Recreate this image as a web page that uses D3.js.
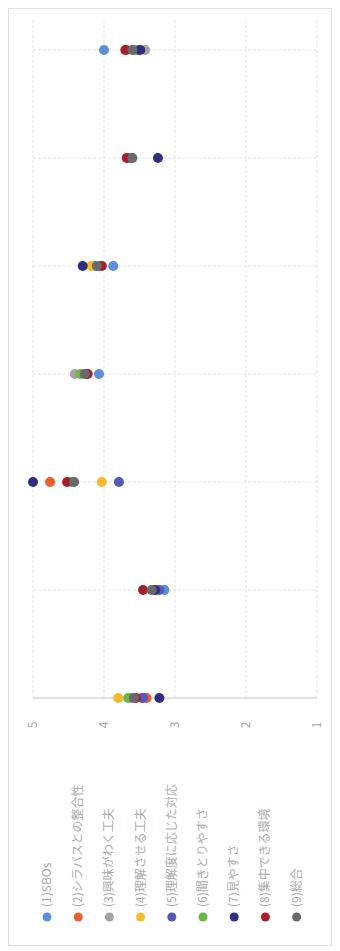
<!DOCTYPE html>
<html>
<head>
<meta charset="utf-8">
<script src="https://cdn.jsdelivr.net/npm/d3@7"></script>
<style>
  body { margin: 0; background: #fff; }
  text { font-family: "Noto Sans CJK JP", "Open Sans", sans-serif; }
</style>
</head>
<body>
<div id="chart"></div>
<script>
// chart is shown rotated: values run left (5) to right (1), categories bottom to top
var categories = ["1", "2", "3", "4", "5", "6", "7"];

var seriesNames = ["(1)SBOs", "(2)シラバスとの整合性", "(3)興味がわく工夫", "(4)理解させる工夫",
    "(5)理解度に応じた対応", "(6)聞きとりやすさ", "(7)見やすさ", "(8)集中できる環境", "(9)総合"];

var seriesColors = ["#5b8fd8", "#e8602c", "#a3a3a7", "#f5b92a", "#5558b8", "#6db545", "#2f2f80", "#a61e2c", "#6a6a6e"];

var s1 = [3.47, 3.15, 4.45, 4.07, 3.87, 3.64, 4.0];
var s2 = [3.40, 3.30, 4.76, 4.25, 4.10, 3.66, 3.68];
var s3 = [3.62, 3.30, 4.44, 4.41, 4.13, 3.62, 3.42];
var s4 = [3.80, 3.28, 4.03, 4.25, 4.18, 3.62, 3.58];
var s5 = [3.45, 3.22, 3.79, 4.25, 4.08, 3.62, 3.52];
var s6 = [3.66, 3.30, 4.45, 4.33, 4.10, 3.62, 3.56];
var s7 = [3.22, 3.28, 5.00, 4.25, 4.30, 3.24, 3.49];
var s8 = [3.55, 3.45, 4.52, 4.23, 4.03, 3.68, 3.70];
var s9 = [3.58, 3.33, 4.42, 4.27, 4.10, 3.60, 3.60];
var seriesValues = [s1, s2, s3, s4, s5, s6, s7, s8, s9];

var valueTicks = [5, 4, 3, 2, 1];

var width = 340, height = 951;
var svg = d3.select("#chart").append("svg").attr("width", width).attr("height", height);

// page frame
svg.append("rect").attr("x", 8.5).attr("y", 8.5).attr("width", 323).attr("height", 937)
    .attr("fill", "#fff").attr("stroke", "#e0e0e0");

var x = d3.scaleLinear().domain([5, 1]).range([33, 317]),
    y = d3.scalePoint().domain(categories).range([698, 50]),
    plotTop = 20, plotBottom = 698;

var g = svg.append("g");

// value gridlines
g.selectAll(".vgrid").data(valueTicks).enter().append("line")
    .attr("class", "vgrid")
    .attr("x1", function(d) { return x(d); }).attr("x2", function(d) { return x(d); })
    .attr("y1", plotTop).attr("y2", plotBottom)
    .attr("stroke", "#e3e3e3").attr("stroke-dasharray", "3,2");

// category gridlines
g.selectAll(".cgrid").data(categories.slice(1)).enter().append("line")
    .attr("class", "cgrid")
    .attr("x1", x(5)).attr("x2", x(1))
    .attr("y1", function(d) { return y(d); }).attr("y2", function(d) { return y(d); })
    .attr("stroke", "#e3e3e3").attr("stroke-dasharray", "3,2");

// axis line
g.append("line").attr("x1", x(5)).attr("x2", x(1)).attr("y1", plotBottom).attr("y2", plotBottom)
    .attr("stroke", "#c4c4c4");

// value tick labels
g.selectAll(".vlab").data(valueTicks).enter().append("text")
    .attr("class", "vlab")
    .attr("transform", function(d) { return "translate(" + (x(d) + 4) + ",725) rotate(-90)"; })
    .attr("text-anchor", "middle")
    .attr("font-size", 12)
    .attr("fill", "#a6a6a6")
    .text(function(d) { return d; });

// points
seriesValues.forEach(function(vals, si) {
    g.append("g").selectAll("circle").data(vals).enter().append("circle")
        .attr("cx", function(d) { return x(d); })
        .attr("cy", function(d, i) { return y(categories[i]); })
        .attr("r", 5)
        .attr("fill", seriesColors[si]);
});

// legend
var legend = svg.append("g").selectAll(".leg").data(seriesNames).enter().append("g")
    .attr("class", "leg")
    .attr("transform", function(d, i) { return "translate(" + (47 + i * 31.2) + ",917)"; });

legend.append("circle").attr("r", 4.5).attr("fill", function(d, i) { return seriesColors[i]; });

legend.append("text")
    .attr("transform", "translate(4,-10) rotate(-90)")
    .attr("font-size", 12)
    .attr("fill", "#ababab")
    .text(function(d) { return d; });
</script>
</body>
</html>
